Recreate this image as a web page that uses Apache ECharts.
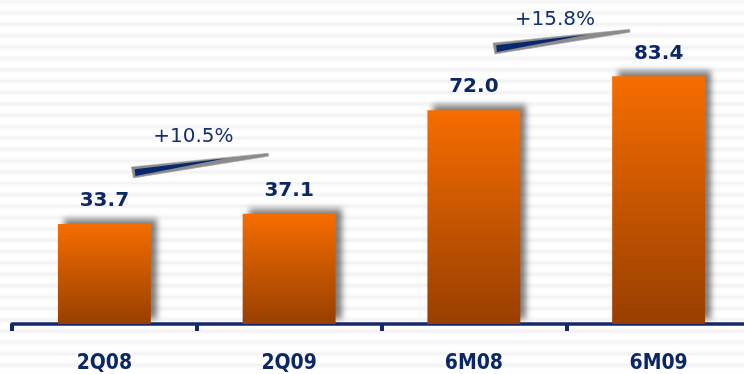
<!DOCTYPE html>
<html>
<head>
<meta charset="utf-8">
<script src="https://cdn.jsdelivr.net/npm/echarts@6/dist/echarts.min.js"></script>
<style>
  html, body { margin: 0; padding: 0; overflow: hidden; }
  body {
    width: 744px; height: 374px;
    background-color: #ffffff;
    background-image: repeating-linear-gradient(180deg,
      #f1f1f1 0px, #fcfcfc 2.4px, #ffffff 4px, #ffffff 7.4px, #fcfcfc 9px, #f1f1f1 11.36px);
    background-position: 0 1.7px;
  }
  /* plot runs off the right edge, so the container is a little wider than the page */
  #chart { width: 752px; height: 374px; }
</style>
</head>
<body>
<div id="chart"></div>
<script>
// Revenue by period
const categories = ['2Q08', '2Q09', '6M08', '6M09'];
const revenue = [33.7, 37.1, 72.0, 83.4];

// Growth call-outs between period pairs
const growthFrom = [0, 2];
const growthTo = [1, 3];
const growthText = ['+10.5%', '+15.8%'];

// Call-out placement (value level of the wedge's thick end, label level, px shift from the first bar centre)
const arrowLevel = [52.9, 94.6];
const labelLevel = [63.0, 102.4];
const arrowShift = [27, 19];

const NAVY = '#0c2766';

const chart = echarts.init(document.getElementById('chart'), null, { renderer: 'canvas' });

function renderGrowth(params, api) {
  const i = params.dataIndex;
  const p = api.coord([api.value(0), api.value(1)]);
  const x0 = p[0] + arrowShift[i];
  const y0 = p[1];
  const lp = api.coord([api.value(0), labelLevel[i]]);
  const grey = [[0, 0], [137, -13.7], [137, -10.7], [2, 11]];
  const blue = [[3.3, 2.3], [95, -8.6], [4, 9]];
  const shift = pts => pts.map(q => [x0 + q[0], y0 + q[1]]);
  return {
    type: 'group',
    children: [
      { type: 'polygon', shape: { points: shift(grey) },
        style: { fill: '#8b8b8b', stroke: '#a5a5a5', lineWidth: 0.6 } },
      { type: 'polygon', shape: { points: shift(blue) },
        style: { fill: '#07286e' } },
      { type: 'text', x: x0 + 62, y: lp[1],
        style: { text: growthText[i], fill: '#15306e', font: '20px "DejaVu Sans"',
                 align: 'center', verticalAlign: 'middle' } }
    ]
  };
}

chart.setOption({
  animation: false,
  backgroundColor: 'transparent',
  grid: { left: 12, top: 27, right: 1, height: 297 },
  xAxis: {
    type: 'category',
    data: categories,
    axisLine: { lineStyle: { color: '#12296a', width: 3.5 } },
    axisTick: { show: true, length: 7, lineStyle: { color: '#12296a', width: 4 } },
    axisLabel: {
      margin: 29,
      color: NAVY,
      fontFamily: '"DejaVu Sans Condensed", "DejaVu Sans"',
      fontWeight: 'bold',
      fontSize: 21
    }
  },
  yAxis: { type: 'value', min: 0, max: 100, show: false, splitLine: { show: false } },
  series: [
    {
      type: 'bar',
      data: revenue,
      barWidth: '50.3%',
      itemStyle: {
        color: new echarts.graphic.LinearGradient(0, 0, 0, 1, [
          { offset: 0, color: '#f66d00' },
          { offset: 1, color: '#983f00' }
        ]),
        shadowColor: 'rgba(0,0,0,0.5)',
        shadowBlur: 6,
        shadowOffsetX: 6,
        shadowOffsetY: -5
      },
      label: {
        show: true,
        position: 'top',
        distance: 13,
        color: NAVY,
        fontFamily: '"DejaVu Sans"',
        fontWeight: 'bold',
        fontSize: 20,
        formatter: p => p.value.toFixed(1)
      }
    },
    {
      type: 'custom',
      renderItem: renderGrowth,
      data: growthFrom.map((f, i) => [f, arrowLevel[i], growthTo[i]]),
      encode: { x: 0, y: 1 },
      clip: false,
      z: 5
    }
  ]
});
</script>
</body>
</html>
